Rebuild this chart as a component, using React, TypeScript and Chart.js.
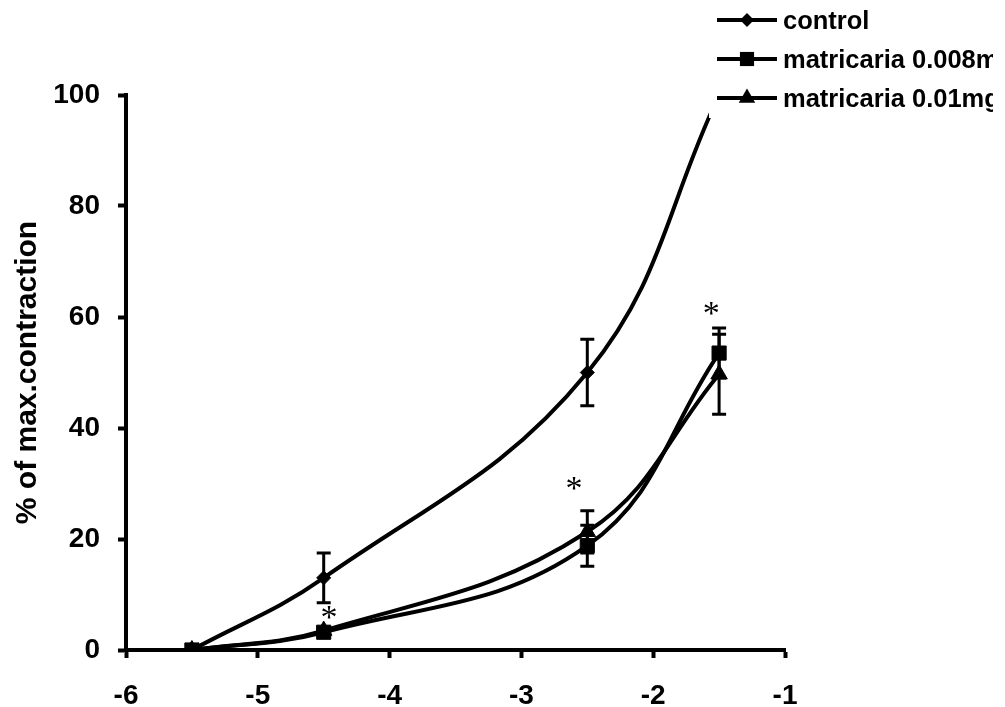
import React, { useEffect, useRef } from 'react';
import { Chart, registerables } from 'chart.js';

Chart.register(...registerables);

// log concentration
const doses = [-5.5, -4.5, -2.5, -1.5];

const controlValues = [0, 13, 50, 100];
const controlErrors = [0, 4.5, 6, 0];

const mat008Values = [0, 3.2, 18.8, 53.5];
const mat008Errors = [0, 0.5, 3.7, 4.5];

const mat001Values = [0, 3.5, 21.3, 49.7];
const mat001Errors = [0, 0.5, 3.8, 7.2];

const seriesNames = ['control', 'matricaria 0.008mg/ml', 'matricaria 0.01mg/ml'];
const seriesMarkers = ['rectRot', 'rect', 'triangle'];
const markerSizes = [7, 10, 9.5];

// significance marks (*)
const starX = [-4.46, -2.6, -1.56];
const starY = [6.8, 30.1, 61.6];

const xTicks = [-6, -5, -4, -3, -2, -1];
const yTicks = [0, 20, 40, 60, 80, 100];

const FONT = 'Arial, "Liberation Sans", sans-serif';
const LEGEND_ROWS = [20, 59, 98];

function drawMarker(ctx: CanvasRenderingContext2D, style: string, r: number, x: number, y: number) {
  ctx.beginPath();
  if (style === 'rectRot') {
    ctx.moveTo(x, y - r);
    ctx.lineTo(x + r, y);
    ctx.lineTo(x, y + r);
    ctx.lineTo(x - r, y);
  } else if (style === 'rect') {
    const s = r * Math.SQRT1_2;
    ctx.rect(x - s, y - s, 2 * s, 2 * s);
  } else {
    ctx.moveTo(x, y - r);
    ctx.lineTo(x + r * 0.866, y + r * 0.5);
    ctx.lineTo(x - r * 0.866, y + r * 0.5);
  }
  ctx.closePath();
  ctx.fill();
}

// error bars + asterisks
const errorBars = {
  id: 'errorBars',
  afterDatasetsDraw(chart: any) {
    const { ctx, chartArea, scales } = chart;
    ctx.save();
    ctx.beginPath();
    ctx.rect(chartArea.left, chartArea.top - 2, chartArea.right - chartArea.left, chartArea.bottom - chartArea.top + 4);
    ctx.clip();
    ctx.strokeStyle = '#000';
    ctx.lineWidth = 3;
    chart.data.datasets.forEach((ds: any) => {
      const errs: number[] = ds.errors || [];
      ds.data.forEach((p: any, i: number) => {
        const e = errs[i];
        if (!e) return;
        const x = scales.x.getPixelForValue(p.x);
        const y1 = scales.y.getPixelForValue(p.y + e);
        const y2 = scales.y.getPixelForValue(p.y - e);
        ctx.beginPath();
        ctx.moveTo(x, y1);
        ctx.lineTo(x, y2);
        ctx.moveTo(x - 7, y1);
        ctx.lineTo(x + 7, y1);
        ctx.moveTo(x - 7, y2);
        ctx.lineTo(x + 7, y2);
        ctx.stroke();
      });
    });
    ctx.restore();

    ctx.save();
    ctx.fillStyle = '#000';
    ctx.font = '34px "Liberation Serif", "Times New Roman", serif';
    ctx.textAlign = 'center';
    ctx.textBaseline = 'middle';
    starX.forEach((sx, i) => {
      ctx.fillText('*', scales.x.getPixelForValue(sx), scales.y.getPixelForValue(starY[i]) + 7);
    });
    ctx.restore();
  },
};

// legend box with white fill, sits over the top-right corner of the plot
const legendBox = {
  id: 'legendBox',
  afterDraw(chart: any) {
    const { ctx } = chart;
    ctx.save();
    ctx.fillStyle = '#fff';
    ctx.fillRect(709, 0, 1005 - 709, 118);
    ctx.beginPath();
    ctx.rect(709, 0, 993 - 709, 118);
    ctx.clip();
    ctx.strokeStyle = '#000';
    ctx.fillStyle = '#000';
    ctx.font = `bold 25.5px ${FONT}`;
    ctx.textAlign = 'left';
    ctx.textBaseline = 'alphabetic';
    seriesNames.forEach((name, i) => {
      const y = LEGEND_ROWS[i];
      ctx.lineWidth = 4;
      ctx.beginPath();
      ctx.moveTo(717, y);
      ctx.lineTo(777, y);
      ctx.stroke();
      drawMarker(ctx, seriesMarkers[i], markerSizes[i], 747, y);
      ctx.fillText(name, 783, y + 9);
    });
    ctx.restore();
  },
};

export default function App() {
  const canvasRef = useRef<HTMLCanvasElement>(null);

  useEffect(() => {
    if (!canvasRef.current) return;
    const mk = (vals: number[]) => doses.map((d, i) => ({ x: d, y: vals[i] }));
    const common = {
      borderColor: '#000',
      backgroundColor: '#000',
      borderWidth: 4,
      pointBorderWidth: 1,
      pointBorderColor: '#000',
      pointBackgroundColor: '#000',
      tension: 0.4,
      fill: false,
    };
    const allValues = [controlValues, mat008Values, mat001Values];
    const allErrors = [controlErrors, mat008Errors, mat001Errors];
    const chart = new Chart(canvasRef.current, {
      type: 'line',
      data: {
        datasets: seriesNames.map((name, i) => ({
          ...common,
          label: name,
          data: mk(allValues[i]),
          errors: allErrors[i],
          pointStyle: seriesMarkers[i],
          pointRadius: markerSizes[i],
        })) as any,
      },
      options: {
        animation: false,
        responsive: true,
        maintainAspectRatio: false,
        layout: { padding: { top: 95, right: 220, left: 0, bottom: 0 } },
        elements: { line: { capBezierPoints: false } },
        plugins: { legend: { display: false }, tooltip: { enabled: false } },
        scales: {
          x: {
            type: 'linear',
            min: -6,
            max: -1,
            afterBuildTicks: (s: any) => { s.ticks = xTicks.map(v => ({ value: v })); },
            afterFit: (s: any) => { s.height = 57; },
            grid: { display: true, drawOnChartArea: false, drawTicks: true, tickLength: 8, tickWidth: 4, tickColor: '#000' },
            border: { display: true, color: '#000', width: 4 },
            ticks: { color: '#000', padding: 21, font: { family: FONT, size: 28, weight: 'bold' } },
          },
          y: {
            type: 'linear',
            min: 0,
            max: 100,
            afterBuildTicks: (s: any) => { s.ticks = yTicks.map(v => ({ value: v })); },
            afterFit: (s: any) => { s.width = 126; },
            grid: { display: true, drawOnChartArea: false, drawTicks: true, tickLength: 8, tickWidth: 4, tickColor: '#000' },
            border: { display: true, color: '#000', width: 4 },
            ticks: { color: '#000', padding: 18, font: { family: FONT, size: 28, weight: 'bold' } },
            title: {
              display: true,
              text: '% of max.contraction',
              color: '#000',
              padding: { top: 10, bottom: 0 },
              font: { family: FONT, size: 30, weight: 'bold' },
            },
          },
        },
      },
      plugins: [errorBars, legendBox],
    });
    return () => chart.destroy();
  }, []);

  return (
    <div style={{ position: 'absolute', left: 0, top: 0, width: 1005, height: 707, background: '#fff' }}>
      <canvas ref={canvasRef} />
    </div>
  );
}
